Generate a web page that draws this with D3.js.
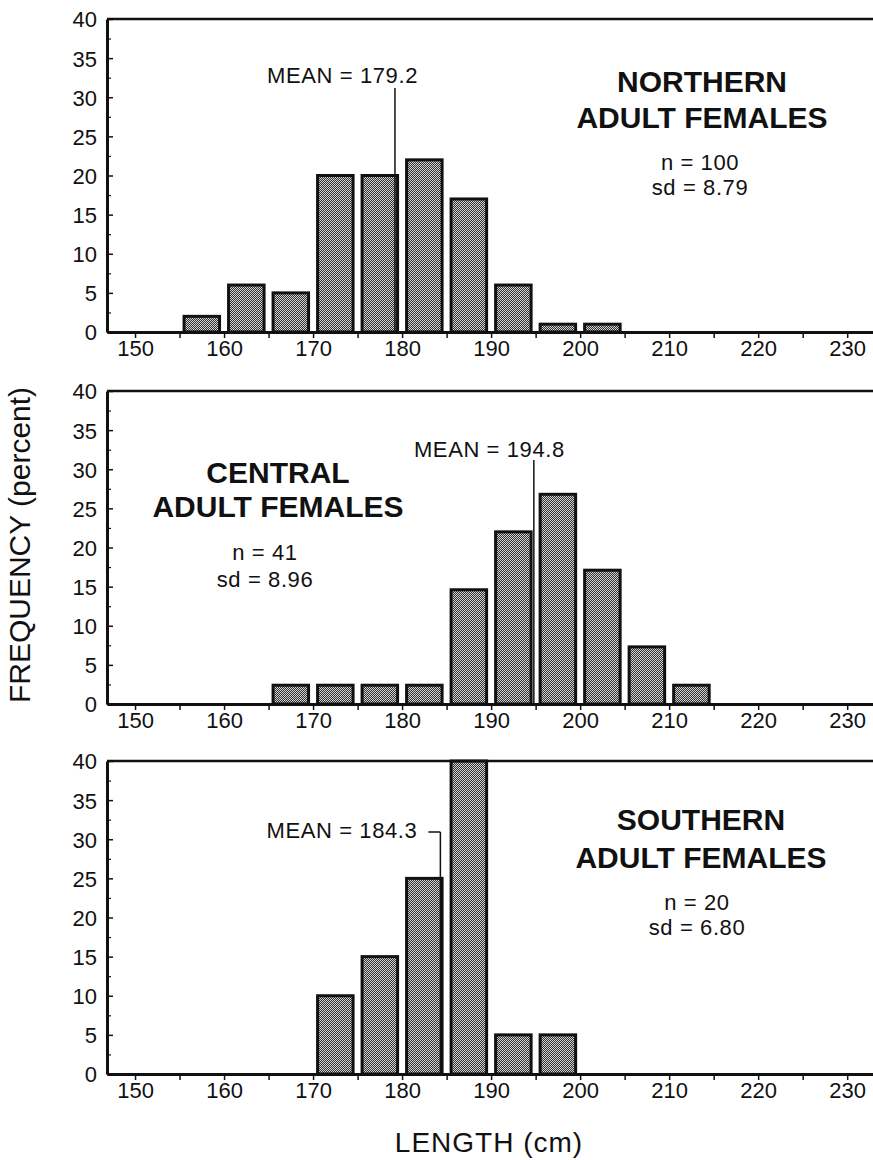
<!DOCTYPE html>
<html>
<head>
<meta charset="utf-8">
<script src="https://cdn.jsdelivr.net/npm/d3@7"></script>
<style>
  body { margin: 0; background: #fff; }
  svg text { font-family: "Liberation Sans", Arial, Helvetica, sans-serif; fill: #111; }
</style>
</head>
<body>
<svg id="chart" width="873" height="1160"></svg>
<script>
// length bins (lower edge, cm), each 5 cm wide
const binStarts = [155, 160, 165, 170, 175, 180, 185, 190, 195, 200, 205, 210];
// frequency (percent) per bin
const northernFreq = [2, 6, 5, 20, 20, 22, 17, 6, 1, 1, 0, 0];
const centralFreq = [0, 0, 2.4, 2.4, 2.4, 2.4, 14.6, 22.0, 26.8, 17.1, 7.3, 2.4];
const southernFreq = [0, 0, 0, 10, 15, 25, 40, 5, 5, 0, 0, 0];

const regionNames = ["NORTHERN", "CENTRAL", "SOUTHERN"];
const sampleSizes = [100, 41, 20];
const stdDevs = ["8.79", "8.96", "6.80"];
const means = [179.2, 194.8, 184.3];

const xTickValues = [150, 160, 170, 180, 190, 200, 210, 220, 230];
const yTickValues = [0, 5, 10, 15, 20, 25, 30, 35, 40];

const panels = [northernFreq, centralFreq, southernFreq].map((freq, i) => ({
    name: regionNames[i],
    n: sampleSizes[i],
    sd: stdDevs[i],
    mean: means[i],
    bins: binStarts.map((b, j) => ({ lo: b, hi: b + 5, value: freq[j] })).filter(d => d.value > 0)
}));

// annotation placement per panel (pixels inside each panel)
const layout = [
    { top: 19,  titleX: 702, titleY: [73, 109], statX: 700, statY: [151, 176], meanDx: 23, meanY: 64, lineTop: 69, hook: false },
    { top: 391, titleX: 278, titleY: [92, 126], statX: 265, statY: [169, 196], meanDx: 31, meanY: 66, lineTop: 69, hook: false },
    { top: 761, titleX: 701, titleY: [69, 107], statX: 697, statY: [149, 174], meanDx: -23, meanY: 77, lineTop: 71, hook: true }
];

const svg = d3.select("#chart");
const left = 107, right = 873, panelH = 313;

const x = d3.scaleLinear().domain([146.85, 232.9]).range([left, right]);
const y = d3.scaleLinear().domain([0, 40]).range([panelH, 0]);

// halftone-ish fill for the bars
const pat = svg.append("defs").append("pattern")
    .attr("id", "halftone")
    .attr("patternUnits", "userSpaceOnUse")
    .attr("width", 2).attr("height", 2);
pat.append("rect").attr("width", 2).attr("height", 2).attr("fill", "#d2d2d2");
pat.append("rect").attr("width", 1).attr("height", 1).attr("fill", "#333");
pat.append("rect").attr("x", 1).attr("y", 1).attr("width", 1).attr("height", 1).attr("fill", "#333");

panels.forEach((p, i) => {
    const L = layout[i];
    const g = svg.append("g").attr("transform", `translate(0,${L.top})`);

    // bars
    g.selectAll(".bar")
        .data(p.bins)
        .enter().append("rect")
        .attr("class", "bar")
        .attr("x", d => x(d.lo) + 4.5)
        .attr("width", d => x(d.hi) - x(d.lo) - 9)
        .attr("y", d => y(d.value))
        .attr("height", d => y(0) - y(d.value))
        .attr("fill", "url(#halftone)")
        .attr("stroke", "#111")
        .attr("stroke-width", 3);

    // top frame line
    g.append("line")
        .attr("x1", left).attr("x2", right)
        .attr("y1", y(40)).attr("y2", y(40))
        .attr("stroke", "#111").attr("stroke-width", 2.5);

    // x axis
    const xAxis = g.append("g")
        .attr("transform", `translate(0,${panelH})`)
        .call(d3.axisBottom(x)
            .tickValues(d3.range(150, 235, 5))
            .tickFormat(d => xTickValues.includes(d) ? d : "")
            .tickSize(6).tickSizeOuter(0).tickPadding(2));
    xAxis.select(".domain").attr("stroke", "#111").attr("stroke-width", 3);
    xAxis.selectAll(".tick line").attr("stroke", "#111").attr("stroke-width", 1.5);
    xAxis.selectAll("text").attr("font-size", 22).attr("font-family", null);

    // y axis (ticks point inward)
    const yAxis = g.append("g")
        .attr("transform", `translate(${left},0)`)
        .call(d3.axisLeft(y).tickValues(yTickValues).tickSize(-6).tickSizeOuter(0).tickPadding(10));
    yAxis.select(".domain").attr("stroke", "#111").attr("stroke-width", 3);
    yAxis.selectAll(".tick line").attr("stroke", "#111").attr("stroke-width", 1.5);
    yAxis.selectAll("text").attr("font-size", 22).attr("font-family", null).attr("dy", "0.36em");

    g.append("g")
        .attr("transform", `translate(${left},0)`)
        .call(d3.axisLeft(y).tickValues(d3.range(2.5, 40, 5)).tickSize(-4).tickFormat(""))
        .call(s => s.select(".domain").remove())
        .selectAll(".tick line").attr("stroke", "#111").attr("stroke-width", 1.2);

    // mean marker
    const mx = x(p.mean);
    g.append("line")
        .attr("x1", mx).attr("x2", mx)
        .attr("y1", L.lineTop).attr("y2", y(0))
        .attr("stroke", "#111").attr("stroke-width", 1.5);
    if (L.hook) {
        g.append("line")
            .attr("x1", mx + L.meanDx + 11).attr("x2", mx)
            .attr("y1", L.lineTop).attr("y2", L.lineTop)
            .attr("stroke", "#111").attr("stroke-width", 1.5);
    }
    g.append("text")
        .attr("x", mx + L.meanDx)
        .attr("y", L.meanY)
        .attr("text-anchor", "end")
        .attr("font-size", 22)
        .attr("letter-spacing", 0.6)
        .text(`MEAN = ${p.mean}`);

    // region title
    g.append("text")
        .attr("text-anchor", "middle")
        .attr("font-size", 30)
        .attr("font-weight", "bold")
        .selectAll("tspan")
        .data([p.name, "ADULT FEMALES"])
        .enter().append("tspan")
        .attr("x", L.titleX)
        .attr("y", (d, k) => L.titleY[k])
        .text(d => d);

    // sample stats
    g.append("text")
        .attr("text-anchor", "middle")
        .attr("font-size", 22)
        .attr("letter-spacing", 0.6)
        .selectAll("tspan")
        .data([`n = ${p.n}`, `sd = ${p.sd}`])
        .enter().append("tspan")
        .attr("x", L.statX)
        .attr("y", (d, k) => L.statY[k])
        .text(d => d);
});

// shared axis titles
svg.append("text")
    .attr("transform", "translate(30,545) rotate(-90)")
    .attr("text-anchor", "middle")
    .attr("font-size", 30)
    .text("FREQUENCY (percent)");

svg.append("text")
    .attr("x", 489)
    .attr("y", 1152)
    .attr("text-anchor", "middle")
    .attr("font-size", 28)
    .attr("letter-spacing", 1)
    .text("LENGTH (cm)");
</script>
</body>
</html>
